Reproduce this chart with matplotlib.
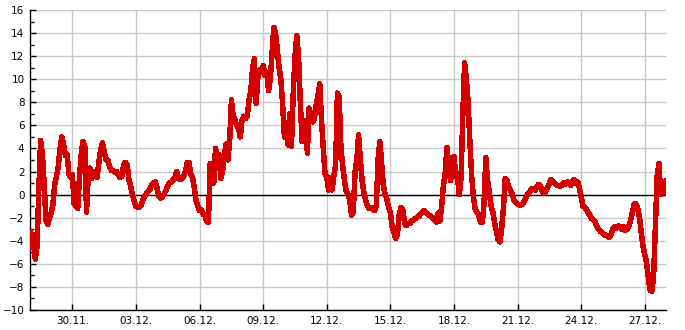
import numpy as np
import matplotlib.pyplot as plt
import matplotlib.dates as mdates
from datetime import datetime, timedelta

# values every 2 hours, starting 28.11. 00:00
start = datetime(2024, 11, 28)
step_hours = 2

temps = [
    -3.2, -4.6, -3.5, -5.6, -4.5, 0.5, 4.7, 3.5, 1.0, -2.2,
    -2.6, -2.0, -1.6, -0.8, 0.9, 1.6, 2.4, 4.0, 5.0, 4.4,
    3.4, 3.5, 1.8, 1.5, 1.7, -0.8, -1.0, -1.2, 1.5, 3.5,
    4.6, 4.2, -1.5, 1.8, 2.3, 1.4, 2.0, 1.8, 1.5, 2.8,
    3.9, 4.5, 3.7, 3.0, 3.0, 2.5, 2.1, 2.1, 1.9, 2.0,
    1.7, 1.5, 1.6, 2.6, 2.8, 2.6, 1.3, 0.7, 0.0, -0.6,
    -1.0, -1.1, -1.1, -0.9, -0.4, -0.1, 0.1, 0.3, 0.5, 0.9,
    1.0, 1.1, 0.5, -0.2, -0.3, -0.2, 0.1, 0.4, 0.8, 1.0,
    1.1, 1.3, 1.4, 2.0, 1.4, 1.3, 1.4, 1.6, 2.0, 2.8,
    2.8, 1.8, 1.5, 0.6, -0.5, -1.0, -1.4, -1.3, -1.7, -1.8,
    -2.3, -2.4, 2.7, 2.4, 1.0, 4.0, 3.2, 3.5, 1.4, 2.0,
    3.4, 4.4, 3.0, 4.6, 8.2, 6.8, 6.5, 6.0, 5.8, 5.0,
    6.4, 6.8, 6.6, 6.8, 8.2, 9.0, 11.0, 11.8, 7.9, 10.2,
    10.8, 10.6, 11.2, 10.3, 10.6, 9.0, 10.0, 12.2, 14.5, 14.0,
    12.5, 11.0, 10.0, 7.8, 5.0, 6.2, 4.3, 7.0, 4.2, 8.8,
    12.0, 13.8, 12.0, 8.0, 4.6, 6.2, 6.4, 3.6, 7.5, 6.8,
    6.3, 6.6, 7.8, 8.6, 9.6, 6.5, 4.0, 1.8, 1.5, 0.4,
    1.5, 0.4, 1.6, 2.5, 8.8, 8.5, 4.0, 2.5, 1.2, 0.3,
    0.0, -0.5, -1.8, -1.5, 2.0, 3.0, 5.2, 3.0, 1.2, 0.2,
    -0.5, -1.0, -1.2, -1.1, -1.2, -1.4, -1.0, 3.0, 4.6, 2.8,
    0.8, 0.0, -0.4, -1.1, -1.6, -2.8, -3.3, -3.8, -3.4, -1.7,
    -1.1, -1.3, -2.4, -2.7, -2.5, -2.5, -2.3, -2.2, -2.1, -2.0,
    -1.9, -1.7, -1.5, -1.4, -1.5, -1.7, -1.8, -1.9, -2.0, -2.2,
    -2.4, -1.6, -2.3, -1.0, 0.8, 1.8, 4.1, 2.6, 1.2, 2.0,
    3.3, 1.8, 1.4, 0.0, 1.5, 7.0, 11.4, 10.0, 8.0, 4.5,
    1.6, -0.2, -1.3, -1.5, -1.8, -2.4, -2.4, -0.8, 3.2, 1.2,
    0.2, -1.0, -1.5, -2.5, -3.2, -3.9, -4.1, -2.9, -1.1, 1.4,
    1.2, 0.6, 0.4, 0.0, -0.5, -0.7, -0.8, -0.9, -0.9, -0.8,
    -0.5, -0.2, 0.1, 0.3, 0.5, 0.5, 0.4, 0.7, 0.9, 0.7,
    0.3, 0.1, 0.3, 0.6, 1.0, 1.3, 1.1, 1.0, 0.8, 0.8,
    0.7, 0.8, 1.0, 0.9, 1.1, 1.0, 0.8, 1.2, 1.3, 1.0,
    1.1, 0.6, -0.2, -1.0, -1.1, -1.3, -1.6, -1.8, -2.1, -2.2,
    -2.4, -2.8, -3.0, -3.2, -3.3, -3.5, -3.5, -3.6, -3.7, -3.4,
    -2.9, -2.8, -2.9, -2.7, -2.8, -3.0, -2.8, -3.1, -3.0, -2.7,
    -2.2, -1.5, -0.8, -0.8, -1.2, -2.0, -3.3, -4.5, -5.2, -5.9,
    -7.2, -8.3, -8.4, -7.0, -2.7, 1.6, 2.7, 0.0, 1.0, 0.2,
    1.2,
]

times = [start + timedelta(hours=step_hours * i) for i in range(len(temps))]

tick_dates = [datetime(2024, 11, 30) + timedelta(days=3 * k) for k in range(10)]
y_ticks = list(range(-10, 17, 2))

fig = plt.figure(figsize=(6.85, 3.3), dpi=100)
ax = fig.add_axes([30 / 685, 20 / 330, 636 / 685, 300 / 330])

ax.plot(times, temps, color='#d40000', linewidth=3.2, antialiased=False, zorder=3)
ax.axhline(0, color='black', linewidth=1, zorder=2)

ax.set_xlim(start, start + timedelta(days=30))
ax.set_ylim(-10, 16)
ax.set_yticks(y_ticks)
ax.set_yticks(range(-9, 16, 2), minor=True)
ax.set_xticks(tick_dates)
ax.xaxis.set_major_formatter(mdates.DateFormatter('%d.%m.'))

ax.grid(True, which='major', color='#c8c8c8', linewidth=1)
ax.set_axisbelow(True)
for side in ['top', 'right']:
    ax.spines[side].set_visible(False)
for side in ['left', 'bottom']:
    ax.spines[side].set_color('black')
    ax.spines[side].set_linewidth(1)

ax.tick_params(axis='both', which='both', direction='in', labelsize=7.5,
               colors='black', length=4, width=1, pad=4)
ax.tick_params(axis='y', which='minor', length=3)

plt.savefig('out.png', dpi=100)
